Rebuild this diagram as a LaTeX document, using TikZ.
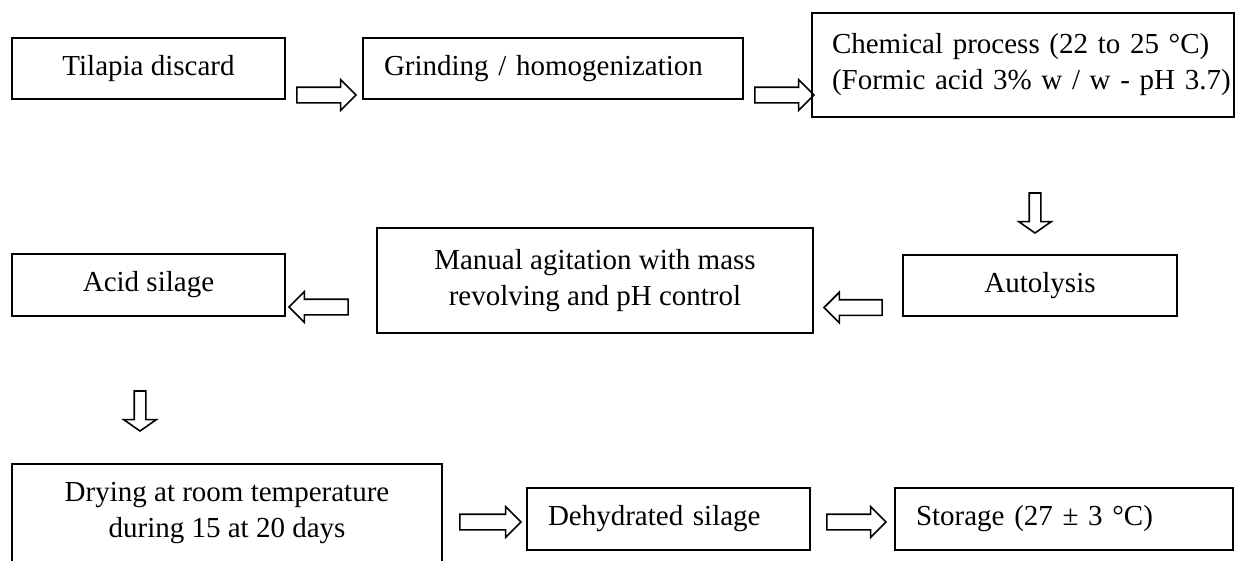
\documentclass[tikz,border=0pt]{standalone}
\usepackage{fontspec}
\setmainfont{Liberation Serif}
\newfontfamily\chemfont{Liberation Serif}[WordSpace=0.7]
\usepackage{tikz}
\usetikzlibrary{shapes.arrows, positioning, calc}
\newcommand\stepfont{\fontsize{29}{36}\selectfont}
\tikzset{
  stepbox/.style={
    draw, line width=2pt, inner sep=0pt, align=center,
    font=\stepfont
  },
  leftbox/.style={
    stepbox, align=left, inner xsep=21pt
  },
  blockarrow/.style={
    single arrow, draw, line width=1.6pt, inner sep=0pt,
    text height=14pt, text depth=0pt,
    single arrow head extend=7.5pt, single arrow tip angle=90,
    minimum height=#1
  },
  downarrow/.style={
    blockarrow=40pt, text height=10pt,
    single arrow head extend=10.5pt, single arrow tip angle=110,
    rotate=-90
  }
}

\begin{document}
\begin{tikzpicture}[x=1pt, y=-1pt]
  \useasboundingbox (0,0) rectangle (1236,560);

  % first row
  \node[stepbox, minimum width=273pt, minimum height=61pt] (tilapia)
    at (148.5,68.5) {Tilapia discard};
  \node[leftbox, text width=338pt, minimum height=61pt] (grind)
    at (553,68.5) {Grinding / homogenization};
  \node[leftbox, inner xsep=20pt, text width=382pt, minimum height=104pt,
    font=\chemfont\stepfont] (chem)
    at (1023,65) {Chemical process (22 to 25 °C)\\
    \mbox{(Formic acid 3\% w / w - pH 3.7)}};

  % second row
  \node[stepbox, minimum width=274pt, minimum height=61pt] (autolysis)
    at (1040,285.5) {Autolysis};
  \node[stepbox, minimum width=436pt, minimum height=105pt] (manual)
    at (595,280.5) {Manual agitation with mass\\revolving and pH control};
  \node[stepbox, minimum width=273pt, minimum height=62pt] (acid)
    at (148.5,285) {Acid silage};

  % third row
  \node[stepbox, minimum width=430pt, minimum height=98pt] (drying)
    at (227,513) {Drying at room temperature\\during 15 at 20 days};
  \node[leftbox, text width=241pt, minimum height=62pt] (dehyd)
    at (668.5,519) {Dehydrated silage};
  \node[leftbox, text width=296pt, minimum height=62pt] (storage)
    at (1064,519) {Storage (27 ± 3 °C)};

  % block arrows
  \node[blockarrow=59pt] (arTG) at (322.5,95) {};
  \node[blockarrow=59pt] (arGC) at (780.5,95) {};
  \node[downarrow] (arCA) at (1035,211) {};
  \node[blockarrow=58pt, rotate=180] (arAM) at (857,307.5) {};
  \node[blockarrow=59pt, rotate=180] (arMA) at (322.5,307) {};
  \node[downarrow] (arAD) at (140,409) {};
  \node[blockarrow=61pt] (arDD) at (486.5,522) {};
  \node[blockarrow=59pt] (arDS) at (852.5,522) {};
\end{tikzpicture}
\end{document}
